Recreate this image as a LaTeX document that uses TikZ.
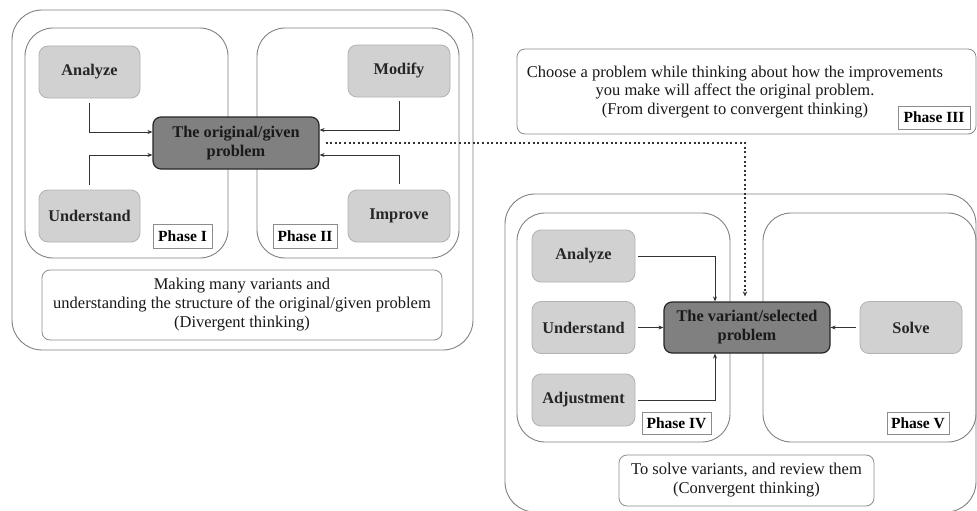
\documentclass[tikz,border=0pt]{standalone}
\usepackage{fontspec}
\setmainfont{Liberation Serif}
\usetikzlibrary{arrows.meta,calc}
\begin{document}
\begin{tikzpicture}[x=1pt,y=-1pt,
 region/.style={draw=black!50, line width=0.9pt, rounded corners=30pt, inner sep=0pt},
 phasebox/.style={draw=black!50, line width=0.9pt, rounded corners=28pt, inner sep=0pt},
 item/.style={draw=black!30, fill=black!18, line width=0.8pt, rounded corners=9pt, font=\fontsize{16.3}{19}\selectfont\bfseries, text=black!85, align=center, inner sep=0pt},
 core/.style={draw=black!85, fill=black!50, line width=1.2pt, rounded corners=8pt, font=\fontsize{16.3}{19}\selectfont\bfseries, text=black!90, align=center, inner sep=0pt},
 tag/.style={draw=black!45, fill=white, line width=0.8pt, font=\fontsize{15.5}{18}\selectfont\bfseries, inner sep=0pt},
 note/.style={draw=black!45, fill=white, line width=0.8pt, rounded corners=8pt, font=\fontsize{16.5}{19}\selectfont, text=black!90, align=center, inner sep=0pt},
 plain/.style={font=\fontsize{16.5}{18.7}\selectfont, text=black!90, align=center, inner sep=0pt},
 link/.style={draw=black!80, line width=0.7pt, -{Stealth[length=5pt,width=4pt]}},
 dots/.style={draw=black!80, line width=1.2pt, dash pattern=on 2pt off 2.6pt, -{Stealth[length=5pt,width=4.5pt]}},
]
\useasboundingbox (0,0) rectangle (977,511);
% left group
\node[region, minimum width=461, minimum height=340] (outerL) at (242.5,180) {};
\node[phasebox, minimum width=203, minimum height=230] (p1) at (126.5,143) {};
\node[phasebox, minimum width=202, minimum height=230] (p2) at (358,143) {};
\node[item, minimum width=101, minimum height=52] (an1) at (89.5,72) {Analyze};
\node[item, minimum width=101, minimum height=52] (un1) at (89.5,216) {Understand};
\node[item, minimum width=102, minimum height=52] (mo) at (399,71) {Modify};
\node[item, minimum width=102, minimum height=52] (im) at (399,216) {Improve};
\node[core, minimum width=166, minimum height=52] (orig) at (236,143) {The original/given\\problem};
\node[tag, minimum width=59, minimum height=24] (tag1) at (182.5,236) {Phase I};
\node[tag, minimum width=64, minimum height=24] (tag2) at (305,236) {Phase II};
\node[note, minimum width=400, minimum height=70] (noteL) at (242,305) {Making many variants and\\understanding the structure of the original/given problem\\(Divergent thinking)};
% phase III
\node[note, minimum width=459, minimum height=85] (p3) at (746.5,91.5) {};
\node[plain] (p3text) at (735,92) {Choose a problem while thinking about how the improvements\\you make will affect the original problem.\\(From divergent to convergent thinking)};
\node[tag, minimum width=72, minimum height=23] (tag3) at (934,117.5) {Phase III};
% right group
\node[region, minimum width=471, minimum height=318] (outerR) at (740.5,353) {};
\node[phasebox, minimum width=213, minimum height=229] (p4) at (623.5,327.5) {};
\node[phasebox, minimum width=213, minimum height=229] (p5) at (869.5,327.5) {};
\node[item, minimum width=103, minimum height=52] (an2) at (583.5,256) {Analyze};
\node[item, minimum width=103, minimum height=52] (un2) at (583.5,327.5) {Understand};
\node[item, minimum width=103, minimum height=52] (ad) at (583.5,400) {Adjustment};
\node[core, minimum width=166, minimum height=51] (var) at (747,327.5) {The variant/selected\\problem};
\node[item, minimum width=102, minimum height=52] (so) at (911,327.5) {Solve};
\node[tag, minimum width=69, minimum height=22] (tag4) at (676.5,423) {Phase IV};
\node[tag, minimum width=62, minimum height=22] (tag5) at (918,423) {Phase V};
\node[note, minimum width=255, minimum height=51] (noteR) at (746.5,480.5) {To solve variants, and review them\\(Convergent thinking)};
% connectors
\draw[link] ($(an1.south)+(0,5)$) |- ($(orig.west)+(0,-11)$);
\draw[link] ($(un1.north)+(0,-5)$) |- ($(orig.west)+(0,12)$);
\draw[link] ($(mo.south)+(0,4)$) |- ($(orig.east)+(0,-13)$);
\draw[link] ($(im.north)+(0,-6)$) |- ($(orig.east)+(0,12)$);
\draw[dots] ($(orig.east)+(6,0)$) -| ($(var.north)+(-2,-5)$);
\draw[link] ($(an2.east)+(3,0)$) -| ($(var.north)+(-32,0)$);
\draw[link] ($(un2.east)+(3,0)$) -- (var.west);
\draw[link] ($(ad.east)+(3,0)$) -| ($(var.south)+(-32,0)$);
\draw[link] ($(so.west)+(-4,0)$) -- (var.east);
\end{tikzpicture}
\end{document}
